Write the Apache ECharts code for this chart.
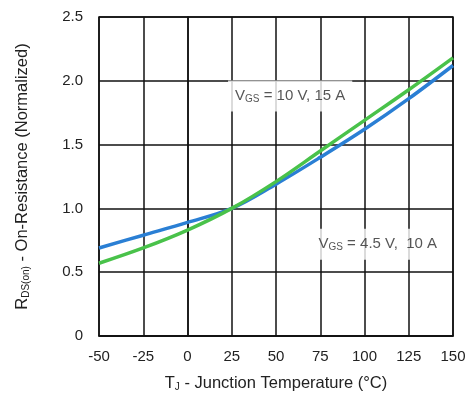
<!DOCTYPE html>
<html><head><meta charset="utf-8">
<script src="https://cdn.jsdelivr.net/npm/echarts@6/dist/echarts.min.js"></script>
<style>html,body{margin:0;padding:0;background:#fff}#c{width:473px;height:396px}</style>
</head><body><div id="c"></div>
<script>
const temps = [-50, -25, 0, 25, 50, 75, 100, 125, 150];
const rdsBlue = [0.69, 0.79, 0.89, 1.0, 1.19, 1.40, 1.62, 1.86, 2.12];
const rdsGreen = [0.57, 0.69, 0.83, 1.0, 1.21, 1.45, 1.69, 1.93, 2.18];
const yTicks = [0, 0.5, 1.0, 1.5, 2.0, 2.5];
const labels = [
  {x: 58, y: 1.88, text: '{m|V}{s|GS}{m| = 10 V, 15 A}'},
  {x: 107.5, y: 0.72, text: '{m|V}{s|GS}{m| = 4.5 V,  10 A}'}
];

const chart = echarts.init(document.getElementById('c'));
const font = 'Liberation Sans, Arial, sans-serif';
const richBig = {
  m: {fontFamily: font, fontSize: 16.5, color: '#222'},
  s: {fontFamily: font, fontSize: 10, color: '#222', verticalAlign: 'bottom', padding: [8, 0, 0, 0]}
};
chart.setOption({
  animation: false,
  backgroundColor: '#fff',
  grid: {left: 99, right: 20, top: 17, bottom: 60, show: true, borderColor: '#111', borderWidth: 1.5,
    containLabel: false, outerBoundsMode: 'none'},
  xAxis: {
    type: 'value', min: -50, max: 150, interval: 25,
    axisLine: {show: true, onZero: false, lineStyle: {color: '#111', width: 1.5}},
    axisTick: {show: false},
    splitLine: {show: true, lineStyle: {color: '#111', width: 1.5}},
    axisLabel: {fontFamily: font, fontSize: 15, color: '#222', margin: 13},
    name: '{m|T}{s|J}{m| - Junction Temperature (°C)}',
    nameLocation: 'middle', nameGap: 38,
    nameTextStyle: {rich: richBig}
  },
  yAxis: {
    type: 'value', min: 0, max: 2.5, interval: 0.5,
    axisLine: {show: true, lineStyle: {color: '#111', width: 1.5}},
    axisTick: {show: false},
    splitLine: {show: true, lineStyle: {color: '#111', width: 1.5}},
    axisLabel: {fontFamily: font, fontSize: 15, color: '#222', margin: 16,
      formatter: v => v === 0 ? '0' : v.toFixed(1)},
    name: '{m|R}{s|DS(on)}{m| - On-Resistance (Normalized)}',
    nameLocation: 'middle', nameGap: 68, nameRotate: 90,
    nameTextStyle: {rich: richBig}
  },
  series: [
    {type: 'line', data: temps.map((t, i) => [t, rdsBlue[i]]), smooth: 0.35, showSymbol: false,
      lineStyle: {color: '#2a7fd4', width: 3.5}, z: 3},
    {type: 'line', data: temps.map((t, i) => [t, rdsGreen[i]]), smooth: 0.35, showSymbol: false,
      lineStyle: {color: '#49c24a', width: 3.5}, z: 4},
    {type: 'scatter', z: 5, silent: true,
      data: labels.map(l => [l.x, l.y]),
      symbol: 'rect', symbolSize: 1, itemStyle: {color: 'rgba(255,255,255,0)'},
      label: {show: true, position: 'inside',
        formatter: p => labels[p.dataIndex].text,
        rich: {
          m: {fontFamily: font, fontSize: 15, color: '#2a2a2a'},
          s: {fontFamily: font, fontSize: 10, color: '#2a2a2a', verticalAlign: 'bottom', padding: [8, 0, 0, 0]}
        },
        backgroundColor: '#fff', padding: [6, 7, 7, 7]}}
  ]
});
</script></body></html>
